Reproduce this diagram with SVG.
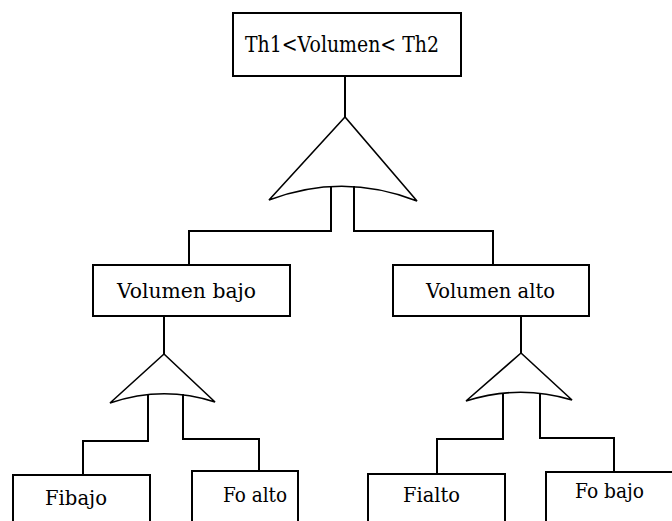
<svg xmlns="http://www.w3.org/2000/svg" width="672" height="521" viewBox="0 0 672 521">
  <style>
    .box { fill: #ffffff; stroke: #000000; stroke-width: 2; }
    .wire { fill: none; stroke: #000000; stroke-width: 2; stroke-linejoin: miter; }
    .gate { fill: none; stroke: #000000; stroke-width: 1.6; stroke-linejoin: miter; }
    .lbl { fill: #000000; font-family: "DejaVu Serif", "Liberation Serif", serif; }
  </style>
  <rect width="672" height="521" fill="#ffffff"/>

  <!-- connectors: wires between boxes and AND gates -->
  <g id="connectors">
    <!-- root to top gate -->
    <path class="wire" d="M345,76 V117"/>
    <!-- top gate outputs -->
    <path class="wire" d="M331,186 V231 H189 V265"/>
    <path class="wire" d="M354,186 V231 H493 V265"/>
    <!-- Volumen bajo to its gate -->
    <path class="wire" d="M164,316 V354"/>
    <path class="wire" d="M148,394 V441 H83 V475"/>
    <path class="wire" d="M183,394 V439 H259 V471"/>
    <!-- Volumen alto to its gate -->
    <path class="wire" d="M521,316 V353"/>
    <path class="wire" d="M503,393 V439 H437 V474"/>
    <path class="wire" d="M540,393 V438 H614 V472"/>
  </g>

  <!-- AND gates -->
  <g id="gate-top">
    <path class="gate" d="M345,117 L269,200 Q343,172 417,201 Z"/>
  </g>
  <g id="gate-bajo">
    <path class="gate" d="M164,354 L110,403 Q163,385 215,402 Z"/>
  </g>
  <g id="gate-alto">
    <path class="gate" d="M521,353 L466,401 Q519,384 572,400 Z"/>
  </g>

  <!-- nodes -->
  <g id="root">
    <rect class="box" x="233" y="13" width="228" height="63"/>
    <text class="lbl" x="245" y="52" font-size="23" textLength="194" lengthAdjust="spacingAndGlyphs">Th1&lt;Volumen&lt; Th2</text>
  </g>
  <g id="volumen-bajo">
    <rect class="box" x="93" y="265" width="197" height="51"/>
    <text class="lbl" x="117" y="298" font-size="20" textLength="139" lengthAdjust="spacingAndGlyphs">Volumen  bajo</text>
  </g>
  <g id="volumen-alto">
    <rect class="box" x="393" y="265" width="196" height="51"/>
    <text class="lbl" x="426" y="298" font-size="20" textLength="129" lengthAdjust="spacingAndGlyphs">Volumen alto</text>
  </g>
  <g id="fi-bajo">
    <rect class="box" x="13" y="475" width="137" height="60"/>
    <text class="lbl" x="45" y="505" font-size="21" textLength="62" lengthAdjust="spacingAndGlyphs">Fibajo</text>
  </g>
  <g id="fo-alto">
    <rect class="box" x="192" y="471" width="106" height="60"/>
    <text class="lbl" x="223" y="502" font-size="20" textLength="64" lengthAdjust="spacingAndGlyphs">Fo alto</text>
  </g>
  <g id="fi-alto">
    <rect class="box" x="368" y="474" width="137" height="60"/>
    <text class="lbl" x="403" y="502" font-size="20" textLength="57" lengthAdjust="spacingAndGlyphs">Fialto</text>
  </g>
  <g id="fo-bajo">
    <rect class="box" x="546" y="472" width="134" height="60"/>
    <text class="lbl" x="575" y="498" font-size="20" textLength="69" lengthAdjust="spacingAndGlyphs">Fo bajo</text>
  </g>
</svg>
